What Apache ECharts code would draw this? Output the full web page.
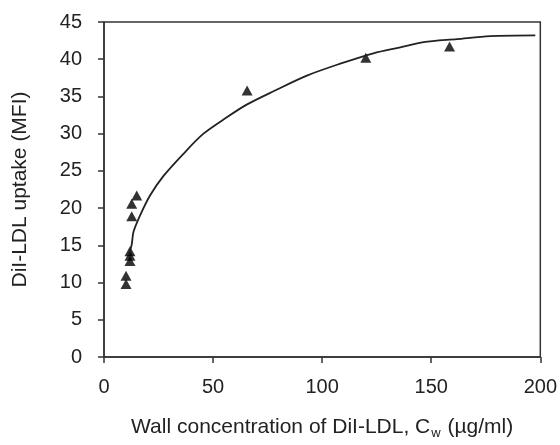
<!DOCTYPE html>
<html>
<head>
<meta charset="utf-8">
<script src="https://cdn.jsdelivr.net/npm/echarts@6/dist/echarts.min.js"></script>
<style>html,body{margin:0;padding:0;background:#fff}#c{width:560px;height:445px}</style>
</head>
<body>
<div id="c"></div>
<script>
// Measured points (wall concentration, uptake)
const pointX = [10.1, 10.1, 11.9, 11.9, 11.9, 12.7, 12.7, 15.0, 65.6, 120.0, 158.4];
const pointY = [9.8, 10.9, 12.9, 13.6, 14.2, 18.9, 20.6, 21.7, 35.8, 40.2, 41.7];
// Fitted curve
const curveX = [11.2, 12.7, 13.5, 16.5, 21.1, 27.2, 36.4, 45.6, 56.3, 65.4, 77.7, 93.0, 108.3, 123.5, 135.8, 146.5, 161.8, 177.0, 197.7];
const curveY = [13.7, 15.1, 16.8, 19.0, 21.7, 24.3, 27.3, 30.0, 32.2, 33.9, 35.7, 37.8, 39.4, 40.8, 41.6, 42.3, 42.7, 43.1, 43.2];
const xTicks = [0, 50, 100, 150, 200];
const yTicks = [0, 5, 10, 15, 20, 25, 30, 35, 40, 45];

const font = 'Liberation Sans, Arial, sans-serif';
const chart = echarts.init(document.getElementById('c'), null, {renderer: 'canvas'});
chart.setOption({
  animation: false,
  grid: {left: 104, right: 19, top: 22, bottom: 80, show: true, borderColor: '#333', borderWidth: 1.5, backgroundColor: 'transparent'},
  xAxis: {
    type: 'value', min: xTicks[0], max: xTicks[xTicks.length - 1], interval: 50,
    axisLine: {show: true, onZero: false, lineStyle: {color: '#333', width: 1.5}},
    axisTick: {show: true, length: 6, lineStyle: {color: '#333', width: 1.5}},
    axisLabel: {fontFamily: font, fontSize: 20, color: '#222', margin: 20},
    splitLine: {show: false},
    name: 'Wall concentration of DiI-LDL, C{sub|w} (µg/ml)',
    nameLocation: 'middle', nameGap: 58,
    nameTextStyle: {fontFamily: font, fontSize: 21, color: '#222',
      rich: {sub: {fontFamily: font, fontSize: 13, color: '#222', padding: [12, 1, 0, 1]}}}
  },
  yAxis: {
    type: 'value', min: yTicks[0], max: yTicks[yTicks.length - 1], interval: 5,
    axisLine: {show: true, onZero: false, lineStyle: {color: '#333', width: 1.5}},
    axisTick: {show: true, length: 6, lineStyle: {color: '#333', width: 1.5}},
    axisLabel: {fontFamily: font, fontSize: 20, color: '#222', margin: 22},
    splitLine: {show: false},
    name: 'DiI-LDL uptake (MFI)', nameLocation: 'middle', nameGap: 73,
    nameTextStyle: {fontFamily: font, fontSize: 21, color: '#222'}
  },
  series: [
    {
      type: 'line', data: curveX.map((x, i) => [x, curveY[i]]),
      smooth: 0.3, showSymbol: false, symbol: 'none',
      lineStyle: {color: '#222', width: 1.8}
    },
    {
      type: 'scatter', data: pointX.map((x, i) => [x, pointY[i]]),
      symbol: 'triangle', symbolSize: [11, 10],
      itemStyle: {color: '#000'}
    }
  ]
});
</script>
</body>
</html>
